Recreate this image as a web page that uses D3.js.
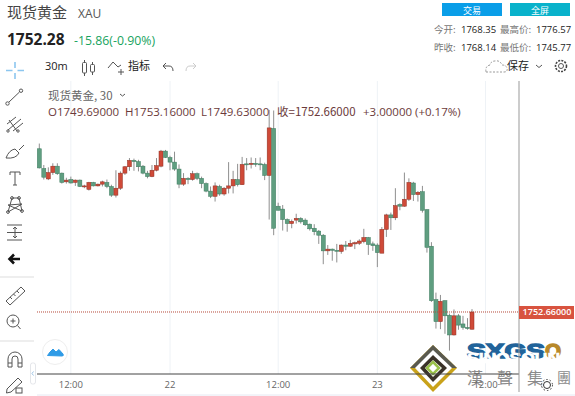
<!DOCTYPE html>
<html lang="zh">
<head>
  <meta charset="UTF-8">
  <title>现货黄金 XAU</title>
  <script src="https://d3js.org/d3.v7.min.js"></script>
  <style>
    html, body { margin: 0; padding: 0; background: #fff; overflow: hidden; }
    svg { display: block; }
    text { font-family: "Noto Sans CJK SC", "Open Sans", sans-serif; }
    .num { font-family: "Open Sans", "Noto Sans", sans-serif; }
    .icon { fill: none; stroke: #555; stroke-width: 1; }
    .toolbar-text { font-size: 11px; fill: #222; }
    .info { font-size: 9.5px; fill: #777; }
    .info-val { font-size: 9.5px; fill: #222; }
    .ohlc { font-size: 11.5px; fill: #6b3a3a; }
  </style>
</head>
<body>
<script>
  // 30m candles, one entry per bar
  var opens = [1780.8,1777.4,1775.6,1776.7,1777.8,1776.6,1775.1,1775.5,1775.0,1775.4,1774.3,1773.8,1775.0,1774.4,1774.7,1775.0,1774.3,1772.8,1774.0,1776.6,1777.7,1778.8,1778.6,1777.8,1776.6,1776.0,1777.1,
    1777.8,1780.4,1779.3,1778.5,1777.3,1774.7,1775.7,1775.5,1776.5,1775.7,1774.8,1773.5,1772.6,1774.3,1773.0,1774.0,1774.4,1775.5,1774.6,1778.2,1778.1,1778.3,1778.2,1778.1,1776.2,1784.3,
    1770.9,1770.4,1768.6,1767.9,1768.5,1768.8,1768.5,1767.8,1767.1,1766.6,1765.9,1763.2,1763.5,1763.3,1763.1,1764.2,1764.0,1764.4,1764.5,1764.8,1765.5,1764.4,1764.2,1762.8,1766.9,1769.4,
    1768.9,1771.2,1770.9,1772.1,1774.9,1772.9,1773.4,1770.3,1764.0,1754.8,1751.0,1754.6,1752.1,1748.7,1752.0,1750.6,1750.0,1749.69];
  var highs = [1781.7,1778.0,1777.6,1778.3,1778.3,1776.7,1775.8,1776.0,1775.5,1775.5,1774.6,1775.1,1775.1,1774.8,1775.3,1775.5,1774.6,1777.1,1776.9,1777.8,1779.2,1779.1,1778.9,1778.0,1777.0,1778.0,1779.2,
    1780.6,1780.6,1779.6,1780.3,1778.1,1776.6,1775.9,1777.0,1776.7,1776.0,1775.0,1774.3,1775.0,1774.6,1774.2,1778.5,1777.0,1778.2,1779.4,1779.2,1779.3,1779.2,1779.3,1778.4,1787.5,1787.4,
    1771.5,1771.1,1768.8,1768.6,1769.6,1769.0,1768.8,1767.9,1767.8,1766.8,1766.1,1764.2,1763.6,1764.4,1764.3,1764.9,1765.1,1764.8,1765.2,1767.0,1765.6,1764.8,1764.5,1767.3,1769.6,1769.8,
    1774.0,1771.4,1776.7,1775.7,1775.1,1773.5,1774.4,1770.4,1764.7,1756.0,1755.6,1754.7,1752.4,1753.1,1752.3,1752.0,1751.6,1753.16];
  var lows = [1777.4,1775.5,1775.4,1776.3,1776.3,1774.8,1774.8,1774.8,1774.4,1774.2,1774.0,1773.6,1774.3,1774.3,1774.3,1774.0,1772.5,1772.4,1773.7,1776.3,1777.0,1777.0,1776.9,1776.4,1775.7,1775.9,1776.9,
    1777.6,1779.2,1777.1,1777.0,1774.0,1774.4,1774.7,1775.3,1775.4,1774.0,1773.3,1772.3,1771.7,1772.7,1772.7,1773.1,1773.1,1774.3,1774.6,1777.1,1777.4,1777.7,1777.1,1775.4,1768.6,1765.9,
    1770.2,1766.7,1766.5,1767.1,1767.9,1767.9,1767.5,1766.7,1765.9,1764.4,1760.9,1762.5,1761.5,1761.2,1762.7,1763.3,1763.9,1763.5,1764.2,1764.5,1762.5,1763.2,1760.4,1762.8,1765.6,1766.8,
    1768.5,1770.2,1770.8,1771.8,1771.8,1771.7,1769.8,1762.9,1754.4,1749.8,1749.7,1748.9,1746.0,1748.6,1749.6,1749.6,1749.6,1749.63];
  var closes = [1777.5,1775.9,1776.7,1777.8,1776.5,1775.0,1775.4,1774.9,1775.4,1774.3,1774.4,1775.0,1774.4,1774.7,1775.1,1774.3,1772.8,1774.0,1776.6,1777.7,1778.8,1778.6,1777.7,1776.6,1776.0,1777.1,1777.9,
    1780.4,1779.3,1778.5,1777.3,1774.7,1775.7,1775.5,1776.5,1775.7,1774.8,1773.5,1772.6,1774.4,1773.0,1774.0,1774.4,1775.5,1774.6,1778.1,1778.1,1778.3,1778.1,1778.1,1776.2,1784.4,1767.1,
    1770.2,1768.6,1767.9,1768.3,1768.8,1768.2,1767.7,1767.0,1766.5,1765.9,1763.2,1763.5,1763.3,1763.2,1764.2,1764.0,1764.5,1764.6,1764.9,1765.5,1764.3,1764.1,1762.9,1766.9,1769.4,1768.9,
    1771.0,1770.9,1772.1,1775.0,1772.9,1773.3,1770.2,1763.8,1754.6,1751.0,1754.5,1752.0,1748.7,1752.0,1750.4,1750.0,1749.8,1752.66];

  var lastPrice = 1752.66;
  var tickBars = [7, 29, 53, 75, 99];   // bar index of each time label
  var tickLabels = ["12:00", "22", "12:00", "23", "12:00"];

  var ohlcLabels = ["O1749.69000", "H1753.16000", "L1749.63000"];
  var quoteKeys = [["今开:", "1768.35", "最高价:", "1776.57"], ["昨收:", "1768.14", "最低价:", "1745.77"]];

  var W = 575, H = 396;
  var plot = { left: 37, right: 519, top: 81, bottom: 374 };
  var upColor = "#cf4a38", downColor = "#5f9e80";

  var svg = d3.select("body").append("svg").attr("width", W).attr("height", H);

  var idx = d3.range(opens.length);
  var x = d3.scaleLinear().domain([0, opens.length - 1]).range([39.3, 472]);
  var y = d3.scaleLinear().domain([1741.97, 1792.14]).range([plot.bottom, 83]);

  // 顶部行情
  svg.append("text").attr("x", 7).attr("y", 18).attr("font-size", 15).attr("fill", "#444").text("现货黄金");
  svg.append("text").attr("class", "num").attr("x", 78).attr("y", 18).attr("font-size", 12).attr("fill", "#555").text("XAU");
  svg.append("text").attr("class", "num").attr("x", 7).attr("y", 45).attr("font-size", 15.5).attr("font-weight", 700).attr("fill", "#222").text("1752.28");
  svg.append("text").attr("class", "num").attr("x", 74).attr("y", 45).attr("font-size", 12.3).attr("fill", "#17a35e").text("-15.86(-0.90%)");

  // 按钮
  [[442, 60, "#0a9ee8", "交易"], [510, 60, "#08b2cb", "全屏"]].forEach(function(b) {
    svg.append("rect").attr("x", b[0]).attr("y", 3).attr("width", b[1]).attr("height", 13).attr("fill", b[2]);
    svg.append("text").attr("x", b[0] + b[1] / 2).attr("y", 13.5).attr("text-anchor", "middle")
      .attr("font-size", 9).attr("fill", "#fff").text(b[3]);
  });

  quoteKeys.forEach(function(r, i) {
    var ty = 33 + i * 18;
    svg.append("text").attr("class", "info").attr("x", 434).attr("y", ty).text(r[0]);
    svg.append("text").attr("class", "info-val num").attr("x", 461).attr("y", ty).text(r[1]);
    svg.append("text").attr("class", "info").attr("x", 500).attr("y", ty).text(r[2]);
    svg.append("text").attr("class", "info-val num").attr("x", 536).attr("y", ty).text(r[3]);
  });

  // 工具栏
  svg.append("text").attr("class", "toolbar-text num").attr("x", 45).attr("y", 70).text("30m");
  var bar = svg.append("g").attr("class", "icon");
  bar.append("path").attr("d", "M84.5 60V62M84.5 73V76M92.5 62V64M92.5 72V75");
  bar.append("rect").attr("x", 82.5).attr("y", 62.5).attr("width", 4).attr("height", 10.5).attr("rx", 1);
  bar.append("rect").attr("x", 90.5).attr("y", 64.5).attr("width", 4).attr("height", 7.5).attr("rx", 1);
  bar.append("path").attr("d", "M108 68L113 62L118 67L121 65M118 72H124M121 69V75");
  svg.append("text").attr("class", "toolbar-text").attr("x", 128).attr("y", 70).text("指标");
  svg.append("path").attr("class", "icon").attr("d", "M166 63L163 66L166 69M163 66H169Q173 66 173 71");
  svg.append("path").attr("class", "icon").style("stroke", "#ccc").attr("d", "M193 63L196 66L193 69M196 66H190Q186 66 186 71");
  svg.append("path").attr("d", "M486 72H504Q508 72 507 68Q506 65 502 65Q500 60 495 61Q491 61 490 65Q485 66 486 72Z")
    .attr("fill", "none").attr("stroke", "#999").attr("stroke-dasharray", "2 1.5");
  svg.append("text").attr("x", 507).attr("y", 70).attr("font-size", 11).attr("fill", "#222").text("保存");
  svg.append("path").attr("class", "icon").attr("d", "M536 65L539 67.5L542 65");
  svg.append("circle").attr("class", "icon").attr("cx", 561).attr("cy", 66).attr("r", 2.5);
  svg.append("circle").attr("cx", 561).attr("cy", 66).attr("r", 5.5).attr("fill", "none").attr("stroke", "#444").attr("stroke-width", 1.6).attr("stroke-dasharray", "2 1.2");

  // 网格
  svg.selectAll(".grid").data(tickBars).enter().append("line").attr("class", "grid")
    .attr("x1", d => x(d)).attr("x2", d => x(d))
    .attr("y1", plot.top).attr("y2", plot.bottom).attr("stroke", "#eef2f6");

  // K线
  var candles = svg.append("g").selectAll("g").data(idx).enter().append("g");
  candles.append("line")
    .attr("x1", d => x(d)).attr("x2", d => x(d))
    .attr("y1", d => y(highs[d])).attr("y2", d => y(lows[d]))
    .attr("stroke", "#8f8f8f").attr("stroke-width", 1);
  candles.append("rect")
    .attr("x", d => x(d) - 2).attr("width", 4)
    .attr("y", d => y(Math.max(opens[d], closes[d])))
    .attr("height", d => Math.max(1, Math.abs(y(opens[d]) - y(closes[d]))))
    .attr("fill", d => closes[d] >= opens[d] ? upColor : downColor)
    .attr("stroke", d => closes[d] >= opens[d] ? "#8f2f22" : "#3d7a5e")
    .attr("stroke-width", 0.5);

  // 现价线
  svg.append("line").attr("x1", plot.left).attr("x2", plot.right).attr("y1", y(lastPrice)).attr("y2", y(lastPrice))
    .attr("stroke", "#b5483a").attr("stroke-dasharray", "1 1");

  // 水印 logo
  var logo = svg.append("g");
  logo.append("path").attr("d", "M433 345L457 368L433 392L410 368Z").attr("fill", "#c9a21a");
  logo.append("path").attr("d", "M433 345L457 368L410 368Z").attr("fill", "#5a5a50");
  logo.append("path").attr("d", "M433 350L452 368L433 387L415 368Z").attr("fill", "#fff");
  logo.append("path").attr("d", "M433 355L447 368L433 382L420 368Z").attr("fill", "#3a3228");
  logo.append("path").attr("d", "M433 360L442 368L433 377L425 368Z").attr("fill", "#fff");
  logo.append("path").attr("d", "M433 362L439 368L433 374L427 368Z").attr("fill", "none").attr("stroke", "#9ac14a").attr("stroke-width", 2.5);
  svg.append("text").attr("x", 467).attr("y", 358).attr("font-size", 20).attr("font-weight", 700).attr("fill", "#21639a")
    .attr("stroke", "#21639a").attr("stroke-width", 1.4)
    .attr("textLength", 78).attr("lengthAdjust", "spacingAndGlyphs").style("font-family", "Liberation Sans").text("SXGS");
  svg.append("text").attr("x", 545).attr("y", 358).attr("font-size", 20).attr("font-weight", 700).attr("fill", "#b8892a")
    .attr("stroke", "#b8892a").attr("stroke-width", 1.4)
    .attr("textLength", 16).attr("lengthAdjust", "spacingAndGlyphs").style("font-family", "Liberation Sans").text("O");
  svg.append("text").attr("x", 467).attr("y", 363).attr("font-size", 14).attr("font-weight", 700).attr("fill", "#fff")
    .attr("textLength", 93).attr("lengthAdjust", "spacingAndGlyphs").attr("stroke", "#fff").attr("stroke-width", 0.6).style("font-family", "Liberation Sans").text("SINOSOUN");
  ["漢", "聲", "集", "團"].forEach(function(c, i) {
    svg.append("text").attr("x", [467, 497, 527, 557][i]).attr("y", i == 3 ? 383 : 384).attr("font-size", i == 3 ? 14 : 16)
      .style("font-family", "Noto Sans CJK TC").attr("fill", "#8b8b8b").text(c);
  });

  // 坐标轴
  svg.append("line").attr("x1", 37).attr("x2", plot.right).attr("y1", plot.bottom).attr("y2", plot.bottom).attr("stroke", "#444");
  svg.append("line").attr("x1", plot.right).attr("x2", plot.right).attr("y1", plot.top).attr("y2", 392).attr("stroke", "#999");
  svg.append("line").attr("x1", 37).attr("x2", W).attr("y1", 395).attr("y2", 395).attr("stroke", "#e6e8f2");
  svg.selectAll(".tick-label").data(tickBars).enter().append("text").attr("class", "tick-label num")
    .attr("x", d => x(d)).attr("y", 388).attr("text-anchor", "middle")
    .attr("font-size", 9.5).attr("fill", "#666").text((d, i) => tickLabels[i]);

  // 价格标签
  svg.append("rect").attr("x", plot.right).attr("y", y(lastPrice) - 6).attr("width", W - plot.right - 1).attr("height", 13).attr("fill", "#d8533f");
  svg.append("text").attr("class", "num").attr("x", 547).attr("y", y(lastPrice) + 3.5).attr("text-anchor", "middle")
    .attr("font-size", 9).attr("font-weight", 600).attr("fill", "#fff").text("1752.66000");

  // 图例
  svg.append("text").attr("x", 48).attr("y", 100).attr("font-size", 11.5).attr("fill", "#666").text("现货黄金, 30");
  svg.append("path").attr("class", "icon").attr("d", "M120 94L122.5 96L125 94");
  [48, 125, 201].forEach(function(px, i) {
    svg.append("text").attr("class", "ohlc num").attr("x", px).attr("y", 116).text(ohlcLabels[i]);
  });
  svg.append("text").attr("class", "ohlc").attr("x", 277).attr("y", 116).text("收=1752.66000");
  svg.append("text").attr("class", "ohlc num").attr("x", 363).attr("y", 116).text("+3.00000 (+0.17%)");

  // 左侧工具
  var tools = svg.append("g").attr("class", "icon");
  svg.append("path").attr("d", "M15 62V68M15 73V79M6 70.5H12.5M17.5 70.5H24").attr("stroke", "#8cc6ef").attr("stroke-width", 1.6).attr("fill", "none");
  // 趋势线
  tools.append("path").attr("d", "M9 102L19.5 92");
  tools.append("circle").attr("cx", 7.5).attr("cy", 103.5).attr("r", 1.7);
  tools.append("circle").attr("cx", 21).attr("cy", 90.7).attr("r", 1.7);
  // 叉子
  tools.append("path").attr("d", "M7 124L16 117M8 130L21 119M13 131L23 123M9 120L17 131");
  tools.append("circle").attr("cx", 8).attr("cy", 131).attr("r", 1.2);
  tools.append("circle").attr("cx", 18).attr("cy", 131).attr("r", 1.2);
  // 画笔
  tools.append("path").attr("d", "M6 158Q9 150 15 149L19 153Q16 159 6 158M19 150L24 145");
  // T
  tools.append("path").attr("d", "M10 172H20M15 172V185M13 185H17M10 172V175M20 172V175");
  // 形态
  tools.append("path").attr("d", "M8 212L12 198L19 198L22 211L8 205L22 204Z");
  tools.append("circle").attr("cx", 8).attr("cy", 212).attr("r", 1.4);
  tools.append("circle").attr("cx", 22).attr("cy", 211).attr("r", 1.4);
  tools.append("circle").attr("cx", 12).attr("cy", 198).attr("r", 1.4);
  tools.append("circle").attr("cx", 19).attr("cy", 198).attr("r", 1.4);
  // 斐波那契
  tools.append("path").attr("d", "M7 225H22M7 232.5H22M7 240H22M15 227V238M13 229L15 227L17 229M13 236L15 238L17 236");
  svg.append("path").attr("d", "M11 259H20M14 254.5L9.5 259L14 263.5").attr("fill", "none").attr("stroke", "#111").attr("stroke-width", 2.6);
  svg.append("line").attr("x1", 0).attr("x2", 34).attr("y1", 277).attr("y2", 277).attr("stroke", "#ddd");
  // 标尺
  tools.append("path").attr("d", "M6 301L21 287L25 291L10 305ZM10 297L12 299M13.5 294L15.5 296M17 291L19 293");
  tools.append("circle").attr("cx", 13).attr("cy", 321).attr("r", 6);
  tools.append("path").attr("d", "M10.5 321H15.5M13 318.5V323.5M17.5 325.5L20.5 329");
  svg.append("line").attr("x1", 0).attr("x2", 34).attr("y1", 341).attr("y2", 341).attr("stroke", "#ddd");
  // 磁铁
  tools.append("path").attr("d", "M8 367V359a7 7 0 0 1 14 0V367H18V359a3 3 0 0 0-6 0V367ZM8 363H12M18 363H22");
  // 铅笔
  tools.append("path").attr("d", "M7 389L18 378L22 382L11 392L6.5 393Z");
  tools.append("rect").attr("x", 16).attr("y", 388).attr("width", 6).attr("height", 5);
  // 折叠把手
  svg.append("rect").attr("x", 30.5).attr("y", 363).attr("width", 5).attr("height", 21).attr("rx", 2).attr("fill", "#fff").attr("stroke", "#e4e6ea");
  svg.append("path").attr("d", "M33.5 371.5L32 373.5L33.5 375.5").attr("fill", "none").attr("stroke", "#9cc3e6");

  // 云标记
  svg.append("circle").attr("cx", 55).attr("cy", 352).attr("r", 12.5).attr("fill", "#fff").attr("stroke", "#eee");
  svg.append("path").attr("d", "M47.5 355.5L50 352L53 349L56 352L59 349.5L63 354Q64 356 62 356Z").attr("fill", "#2f9be6").attr("stroke", "#2f9be6").attr("stroke-width", 1);

  // 设置齿轮
  svg.append("circle").attr("cx", 547).attr("cy", 385).attr("r", 3.5).attr("fill", "none").attr("stroke", "#333");
  svg.append("circle").attr("cx", 547).attr("cy", 385).attr("r", 5.5).attr("fill", "none").attr("stroke", "#333").attr("stroke-dasharray", "1.5 2");
</script>
</body>
</html>
